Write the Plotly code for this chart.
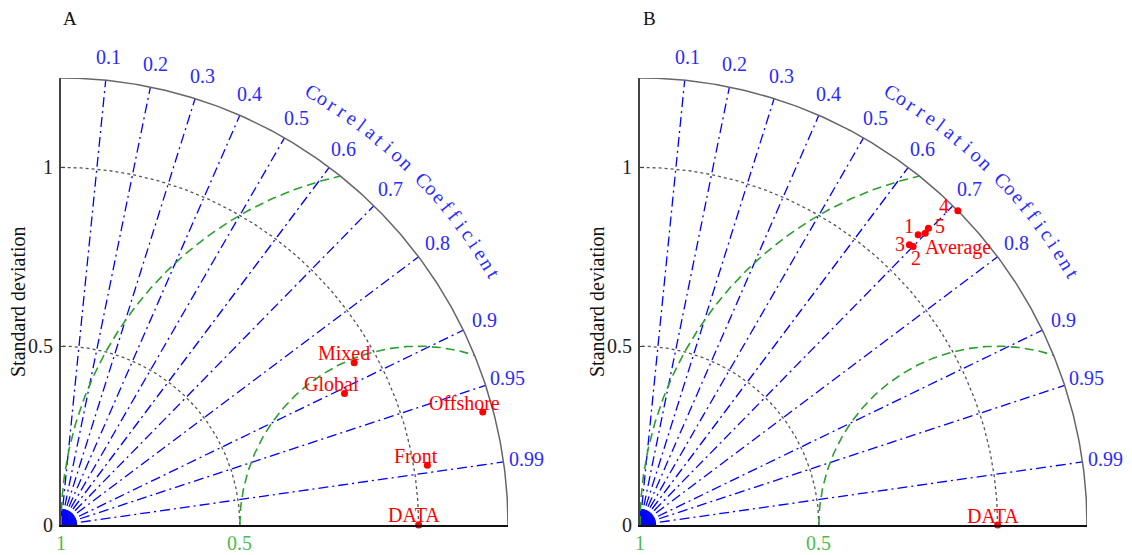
import numpy as np
import plotly.graph_objects as go

# ---------------- data ----------------
corr_ticks = [0.1, 0.2, 0.3, 0.4, 0.5, 0.6, 0.7, 0.8, 0.9, 0.95, 0.99]
corr_tick_labels = ["0.1", "0.2", "0.3", "0.4", "0.5", "0.6", "0.7", "0.8", "0.9", "0.95", "0.99"]
std_ticks = [0, 0.5, 1]
std_tick_labels = ["0", "0.5", "1"]
std_arcs = [0.5, 1.0]
rms_levels = [0.5, 1.0]
rms_labels = ["0.5", "1"]
ref_std = 1.0
max_std = 1.25
axis_title = "Standard deviation"
curve_title = "Correlation Coefficient"

a_names = ["DATA", "Front", "Offshore", "Global", "Mixed"]
a_std = [1.0, 1.038, 1.221, 0.874, 0.937]
a_corr = [1.0, 0.987, 0.966, 0.907, 0.875]

b_names = ["DATA", "1", "2", "3", "4", "5", "Average"]
b_std = [1.0, 1.124, 1.091, 1.087, 1.25, 1.157, 1.141]
b_corr = [1.0, 0.692, 0.700, 0.693, 0.711, 0.697, 0.699]

# ---------------- style ----------------
W, H = 1132, 555
SERIF = "Times New Roman, Liberation Serif, serif"
BLUE = "#0000ff"
BLUE_TXT = "#2a2aff"
GREEN = "#2ca02c"
GREEN_TXT = "#4cbb4c"
RED = "#ff0000"
Y0_PX, Y1_PX = 525, 78  # pixel rows of std 0 and std max
panels = [
    dict(tag="A", x0=61, x1=508, xa="x", ya="y", names=a_names, std=a_std, corr=a_corr,
         offs={"DATA": (-5, 10), "Front": (-11, 9), "Offshore": (-18, 9), "Global": (-13, 9), "Mixed": (-10, 10)}),
    dict(tag="B", x0=640, x1=1087, xa="x2", ya="y2", names=b_names, std=b_std, corr=b_corr,
         offs={"DATA": (-5, 9), "1": (-9, 9), "2": (3, -12), "3": (-9, 1), "4": (-14, 5),
               "5": (12, 2), "Average": (33, -14)}),
]

fig = go.Figure()
annotations = []


def to_paper(p, x, y):
    px = p["x0"] + x / max_std * (p["x1"] - p["x0"])
    py = Y0_PX - y / max_std * (Y0_PX - Y1_PX)
    return px / W, 1 - py / H


for p in panels:
    xa, ya = p["xa"], p["ya"]
    common = dict(xaxis=xa, yaxis=ya, showlegend=False, hoverinfo="skip")

    # dotted standard-deviation arcs
    th = np.linspace(0, np.pi / 2, 200)
    for r in std_arcs:
        fig.add_trace(go.Scatter(x=r * np.cos(th), y=r * np.sin(th), mode="lines",
                                 line=dict(color="#555555", width=1.3, dash="dot"), **common))

    # correlation rays
    for c in corr_ticks:
        a = np.arccos(c)
        fig.add_trace(go.Scatter(x=[0, max_std * np.cos(a)], y=[0, max_std * np.sin(a)], mode="lines",
                                 line=dict(color=BLUE, width=1.3, dash="10px,4px,2px,4px"), **common))

    # dense fan at origin
    fx, fy = [], []
    for a in np.linspace(0, np.pi / 2, 46):
        fx += [0, 0.045 * np.cos(a), None]
        fy += [0, 0.045 * np.sin(a), None]
    fig.add_trace(go.Scatter(x=fx, y=fy, mode="lines", line=dict(color=BLUE, width=1), **common))

    # centred RMS circles around the reference point
    for r in rms_levels:
        phi_end = np.arccos((max_std ** 2 - ref_std ** 2 - r ** 2) / (2 * ref_std * r))
        ph = np.linspace(np.pi, phi_end, 200)
        fig.add_trace(go.Scatter(x=ref_std + r * np.cos(ph), y=r * np.sin(ph), mode="lines",
                                 line=dict(color=GREEN, width=1.6, dash="9px,5px"), **common))

    # outer arc
    fig.add_trace(go.Scatter(x=max_std * np.cos(th), y=max_std * np.sin(th), mode="lines",
                             line=dict(color="#666666", width=1.5), **common))

    # model points
    xs = [s * c for s, c in zip(p["std"], p["corr"])]
    ys = [s * np.sqrt(max(0.0, 1 - c * c)) for s, c in zip(p["std"], p["corr"])]
    fig.add_trace(go.Scatter(x=xs, y=ys, mode="markers", cliponaxis=False,
                             marker=dict(color=RED, size=7), **common))
    for name, x, y in zip(p["names"], xs, ys):
        dx, dy = p["offs"][name]
        annotations.append(dict(x=x, y=y, xref=xa, yref=ya, text=name, showarrow=False,
                                xshift=dx, yshift=dy, font=dict(family=SERIF, size=20, color=RED)))

    # correlation tick labels
    for c, lab in zip(corr_ticks, corr_tick_labels):
        a = np.arccos(c)
        px, py = to_paper(p, 1.315 * np.cos(a), 1.315 * np.sin(a))
        annotations.append(dict(x=px, y=py, xref="paper", yref="paper", text=lab, showarrow=False,
                                xanchor="center", yanchor="middle",
                                font=dict(family=SERIF, size=20, color=BLUE_TXT)))

    # curved title
    n = len(curve_title)
    angs = np.linspace(np.deg2rad(59.8), np.deg2rad(30.1), n)
    for ch, a in zip(curve_title, angs):
        if ch == " ":
            continue
        px, py = to_paper(p, 1.40 * np.cos(a), 1.40 * np.sin(a))
        annotations.append(dict(x=px, y=py, xref="paper", yref="paper", text=ch, showarrow=False,
                                xanchor="center", yanchor="middle", textangle=90 - np.rad2deg(a),
                                font=dict(family=SERIF, size=20, color=BLUE_TXT)))

    # RMS labels below the axis
    for r, lab in zip(rms_levels, rms_labels):
        px, py = to_paper(p, ref_std - r, 0)
        annotations.append(dict(x=px, y=py, xref="paper", yref="paper", text=lab, showarrow=False,
                                xanchor="center", yanchor="middle", yshift=-18,
                                font=dict(family=SERIF, size=20, color=GREEN_TXT)))

    # std axis title
    annotations.append(dict(x=(p["x0"] - 43) / W, y=1 - 302 / H, xref="paper", yref="paper",
                            text=axis_title, showarrow=False, textangle=-90,
                            xanchor="center", yanchor="middle",
                            font=dict(family=SERIF, size=20, color="#111111")))
    # panel tag
    annotations.append(dict(x=(p["x0"] + 9) / W, y=1 - 18 / H, xref="paper", yref="paper",
                            text=p["tag"], showarrow=False, xanchor="center", yanchor="middle",
                            font=dict(family=SERIF, size=19, color="#111111")))

ydom = [1 - Y0_PX / H, 1 - Y1_PX / H]


def xaxis_cfg(p):
    return dict(domain=[p["x0"] / W, p["x1"] / W], range=[0, max_std], showgrid=False, zeroline=False,
                showticklabels=False, ticks="", showline=True, linecolor="#111111", linewidth=1.6,
                fixedrange=True)


def yaxis_cfg(xa):
    return dict(domain=ydom, range=[0, max_std], anchor=xa, showgrid=False, zeroline=False,
                tickvals=std_ticks, ticktext=std_tick_labels, ticks="inside", ticklen=4,
                tickcolor="#444444", showline=True, linecolor="#444444", linewidth=2,
                ticklabelstandoff=2,
                tickfont=dict(family=SERIF, size=20, color="#222222"), fixedrange=True)


fig.update_layout(
    width=W, height=H, autosize=False,
    margin=dict(l=0, r=0, t=0, b=0, autoexpand=False),
    paper_bgcolor="white", plot_bgcolor="white",
    xaxis=dict(**xaxis_cfg(panels[0]), anchor="y"),
    yaxis=yaxis_cfg("x"),
    xaxis2=dict(**xaxis_cfg(panels[1]), anchor="y2"),
    yaxis2=yaxis_cfg("x2"),
    annotations=annotations,
)

fig.write_html("out.html", post_script="document.body.style.margin='0px';",
               config={"displayModeBar": False})
